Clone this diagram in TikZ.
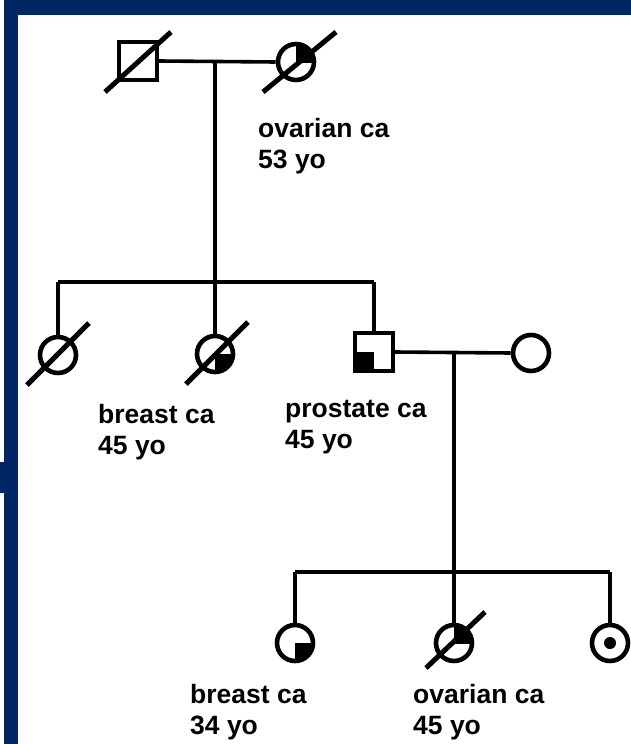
\documentclass[tikz,border=0pt]{standalone}
\usepackage{fontspec}
\setmainfont{Liberation Sans}
\usetikzlibrary{calc}
\definecolor{navy}{RGB}{0,38,99}
\begin{document}
\begin{tikzpicture}[x=1pt,y=-1pt,
  female/.style={circle,draw,line width=4.6pt,minimum size=36pt,inner sep=0pt},
  male/.style={rectangle,draw,line width=4.2pt,minimum size=38pt,inner sep=0pt},
  link/.style={line width=3.6pt},
  deceased/.style={line width=5pt},
  lbl/.style={anchor=base west,inner sep=0pt,font=\bfseries\fontsize{26.5}{31}\selectfont}
]
% background and frame
\fill[white] (0,0) rectangle (631,744);
\useasboundingbox (0,0) rectangle (631,744);
\fill[navy] (4,0) rectangle (631,15);
\fill[navy] (4,0) rectangle (18,744);
\fill[navy] (0,462) rectangle (18,493);

% generation I
\node[male] (I1) at (138,61) {};
\node[female] (I2) at (296,62) {};
\begin{scope}
  \clip (I2.center) rectangle ++(30,-30);
  \fill (I2.center) circle[radius=18];
\end{scope}
\coordinate (m1) at (215,61);
\coordinate (s2L) at (58,282);
\coordinate (s2M) at (215,282);
\coordinate (s2R) at (374,282);

% generation II
\node[female] (II1) at (58,355) {};
\node[female] (II2) at (215,354) {};
\begin{scope}
  \clip (II2.center) rectangle ++(30,30);
  \fill (II2.center) circle[radius=18];
\end{scope}
\node[male] (II3) at (374,352) {};
\fill (II3.center) rectangle (II3.south west);
\node[female] (II4) at (531,353) {};
\coordinate (m2) at (454,352);
\coordinate (s3L) at (295,572);
\coordinate (s3M) at (454,572);
\coordinate (s3R) at (610,572);

% generation III
\node[female] (III1) at (295,643) {};
\begin{scope}
  \clip (III1.center) rectangle ++(30,30);
  \fill (III1.center) circle[radius=18];
\end{scope}
\node[female] (III2) at (454,643) {};
\begin{scope}
  \clip (III2.center) rectangle ++(30,-30);
  \fill (III2.center) circle[radius=18];
\end{scope}
\node[female] (III3) at (610,643) {};
\fill (III3.center) circle[radius=6];

% connectors
\draw[link] (I1.east) -- (I2.west);
\draw[link] (m1) -- (II2.north);
\draw[link] (s2L) -- (s2R);
\draw[link] (s2L) -- (II1.north);
\draw[link] (s2R) -- (II3.north);
\draw[link] (II3.east) -- (II4.west);
\draw[link] (m2) -- (s3M);
\draw[link] (s3L) -- (s3R);
\draw[link] (s3L) -- (III1.north);
\draw[link] (s3M) -- (III2.north);
\draw[link] (s3R) -- (III3.north);

% deceased slashes
\draw[deceased] ($(I1.center)+(-33,31)$) -- ($(I1.center)+(33,-29)$);
\draw[deceased] ($(I2.center)+(-33,30)$) -- ($(I2.center)+(40,-30)$);
\draw[deceased] ($(II1.center)+(-31,30)$) -- ($(II1.center)+(31,-32)$);
\draw[deceased] ($(II2.center)+(-29,30)$) -- ($(II2.center)+(33,-32)$);
\draw[deceased] ($(III2.center)+(-28,25)$) -- ($(III2.center)+(31,-31)$);

% labels
\node[lbl] (t1a) at (258,137) {ovarian ca};
\node[lbl] (t1b) at (258,168) {53 yo};
\node[lbl] (t2a) at (98,423) {breast ca};
\node[lbl] (t2b) at (98,454) {45 yo};
\node[lbl] (t3a) at (285,417) {prostate ca};
\node[lbl] (t3b) at (285,448) {45 yo};
\node[lbl] (t4a) at (190,703) {breast ca};
\node[lbl] (t4b) at (190,734) {34 yo};
\node[lbl] (t5a) at (413,703) {ovarian ca};
\node[lbl] (t5b) at (413,734) {45 yo};
\end{tikzpicture}
\end{document}
